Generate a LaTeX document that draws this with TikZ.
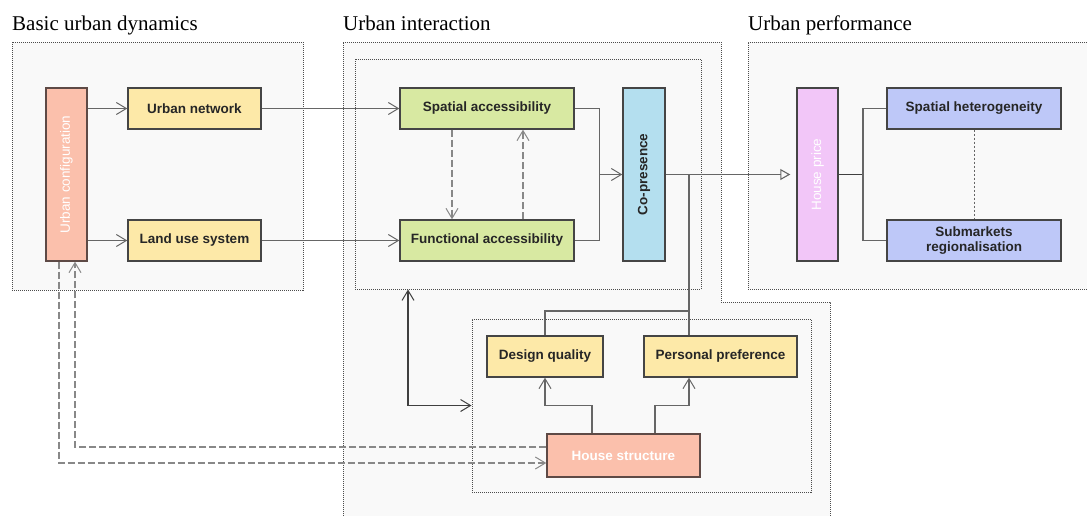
\documentclass[tikz,border=0pt]{standalone}
\usepackage{fontspec}
\setmainfont{Liberation Serif}
\newfontfamily\boxfont{Liberation Sans}
\usetikzlibrary{arrows.meta,calc}

\definecolor{edge}{HTML}{454545}
\definecolor{salmonfill}{HTML}{FBC0AC}
\definecolor{salmonedge}{HTML}{5E4A46}
\definecolor{yellowfill}{HTML}{FDE9A8}
\definecolor{greenfill}{HTML}{D8E9A2}
\definecolor{bluefill}{HTML}{B4DFEF}
\definecolor{pinkfill}{HTML}{F2C6F8}
\definecolor{violetfill}{HTML}{BEC8F8}
\definecolor{zonefill}{HTML}{F9F9F9}
\definecolor{wire}{HTML}{666666}
\definecolor{dashwire}{HTML}{888888}

\tikzset{
  barb/.tip={Straight Barb[length=10pt,width=12pt,line width=1pt]},
  box/.style={draw=edge, line width=1.4pt, inner sep=0pt, align=center,
    font=\boxfont\bfseries\fontsize{13.5}{15}\selectfont, text=black!85},
  salmonbox/.style={box, fill=salmonfill, draw=salmonedge, text=white},
  yellowbox/.style={box, fill=yellowfill},
  greenbox/.style={box, fill=greenfill},
  cyanbox/.style={box, fill=bluefill},
  pinkbox/.style={box, fill=pinkfill, text=white},
  violetbox/.style={box, fill=violetfill},
  zone/.style={draw=black!70, line width=1pt, dash pattern=on 1pt off 1pt, fill=zonefill},
  subzone/.style={draw=black!70, line width=1pt, dash pattern=on 1pt off 1pt},
  title/.style={anchor=base west, inner sep=0pt, font=\fontsize{21}{24}\selectfont},
  flow/.style={draw=wire, line width=1.1pt, -barb},
  link/.style={draw=wire, line width=1.1pt},
  feedback/.style={draw=dashwire, line width=1.1pt, dash pattern=on 7pt off 3pt, -barb},
  mutual/.style={draw=black!75, line width=1.8pt, barb-barb},
}

\begin{document}
\begin{tikzpicture}[x=1pt, y=-1pt]
  \useasboundingbox (0,0) rectangle (1087,515);
  \clip (0,0) rectangle (1087,515);

  % section titles
  \node[title] (t1) at (12,30) {Basic urban dynamics};
  \node[title] (t2) at (343,30) {Urban interaction};
  \node[title] (t3) at (748,30) {Urban performance};

  % section frames
  \node[zone, minimum width=291pt, minimum height=248pt] (bud) at (157.5,166) {};
  \path[fill=zonefill] (343,530) -- (343,42) -- (721,42) -- (721,302) -- (830,302) -- (830,530) -- cycle;
  \draw[subzone] (343,530) -- (343,42) -- (721,42) -- (721,302) -- (830,302) -- (830,530);
  \node[zone, minimum width=347pt, minimum height=247pt] (upf) at (921.5,165.5) {};
  \node[subzone, minimum width=346pt, minimum height=230pt] (uiin) at (528,174) {};
  \node[subzone, minimum width=339pt, minimum height=173pt] (hsg) at (641.5,405.5) {};

  % basic urban dynamics
  \node[salmonbox, minimum width=41pt, minimum height=173pt, font=\boxfont\fontsize{13.5}{15}\selectfont]
    (uc) at (66.5,174.5) {\rotatebox{90}{Urban configuration}};
  \node[yellowbox, minimum width=133pt, minimum height=41pt] (un) at (194.5,108.5) {Urban network};
  \node[yellowbox, minimum width=133pt, minimum height=41pt] (lu) at (194.5,240.5) {Land use system};

  % urban interaction
  \node[greenbox, minimum width=174pt, minimum height=41pt] (sa) at (487,108.5) {Spatial accessibility};
  \node[greenbox, minimum width=174pt, minimum height=41pt] (fa) at (487,240.5) {Functional accessibility};
  \node[cyanbox, minimum width=42pt, minimum height=173pt] (cp) at (644,174.5) {\rotatebox{90}{Co-presence}};
  \node[yellowbox, minimum width=116pt, minimum height=41pt] (dq) at (545,356.5) {Design quality};
  \node[yellowbox, minimum width=153pt, minimum height=41pt] (pp) at (720.5,356.5) {Personal preference};
  \node[salmonbox, minimum width=153pt, minimum height=43pt] (hs) at (623.5,455.5) {House structure};

  % urban performance
  \node[pinkbox, minimum width=41pt, minimum height=173pt, font=\boxfont\fontsize{13.5}{15}\selectfont]
    (hp) at (817.5,174.5) {\rotatebox{90}{House price}};
  \node[violetbox, minimum width=174pt, minimum height=41pt] (sh) at (974,108.5) {Spatial heterogeneity};
  \node[violetbox, minimum width=174pt, minimum height=41pt] (sr) at (974,240.5) {Submarkets\\regionalisation};

  % junction points
  \coordinate (cpj) at (689,174.5);
  \coordinate (hpj) at (863,174.5);
  \coordinate (topj) at (689,311);

  % flows
  \draw[flow] (uc.east |- un.west) -- (un.west);
  \draw[flow] (uc.east |- lu.west) -- (lu.west);
  \draw[flow] (un.east) -- (sa.west);
  \draw[flow] (lu.east) -- (fa.west);
  \draw[flow] (sa.east) -- ++(25,0) |- (cp.west);
  \draw[link] (fa.east) -- ++(25,0) |- (cp.west);
  \draw[feedback] ([xshift=-35pt]sa.south) -- ([xshift=-35pt]fa.north);
  \draw[feedback] ([xshift=36pt]fa.north) -- ([xshift=36pt]sa.south);

  \draw[draw=wire, line width=1.1pt, -{Triangle[open, length=10pt, width=11pt]}, shorten >=6pt]
    (cp.east) -- (hp.west);
  \draw[link] (cp.east) -- (cpj) -- (cpj |- pp.north);
  \draw[link] (topj) -| (dq.north);

  \draw[flow] ([xshift=-31.5pt]hs.north) -- ++(0,-28) -| (dq.south);
  \draw[flow] ([xshift=31.5pt]hs.north) -- ++(0,-28) -| (cpj |- pp.south);

  \draw[draw=black!75, line width=1.6pt] (hp.east) -- (hpj);
  \draw[link] (sh.west) -| (hpj) |- (sr.west);
  \draw[draw=wire, line width=1pt, dash pattern=on 2pt off 2pt] (sh.south) -- (sr.north);

  \draw[mutual] ([xshift=-120pt]uiin.south) |- (hsg.west);

  \draw[feedback] ([yshift=8.5pt]hs.west) -| ([xshift=8.5pt]uc.south);
  \draw[feedback] ([xshift=-7.5pt]uc.south) |- ([yshift=-7.5pt]hs.west);
\end{tikzpicture}
\end{document}
